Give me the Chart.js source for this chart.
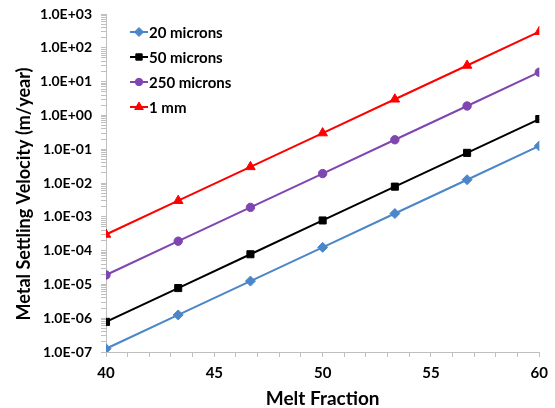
<!DOCTYPE html>
<html>
<head>
<meta charset="utf-8">
<script src="https://cdn.jsdelivr.net/npm/chart.js@4"></script>
<style>
  html, body { margin: 0; padding: 0; background: #fff; }
  #wrap { width: 555px; height: 408px; position: relative; }
</style>
</head>
<body>
<div id="wrap"><canvas id="settlingChart"></canvas></div>
<script>
// melt fraction (%) where each point sits
var meltFraction = [40, 43.333, 46.667, 50, 53.333, 56.667, 60];

// settling velocity in m/year
var v20microns  = [1.25e-7, 1.25e-6, 1.25e-5, 1.25e-4, 1.25e-3, 1.25e-2, 1.25e-1];
var v50microns  = [7.8e-7, 7.8e-6, 7.8e-5, 7.8e-4, 7.8e-3, 7.8e-2, 7.8e-1];
var v250microns = [1.9e-5, 1.9e-4, 1.9e-3, 1.9e-2, 1.9e-1, 1.9e0, 1.9e1];
var v1mm        = [3.0e-4, 3.0e-3, 3.0e-2, 3.0e-1, 3.0e0, 3.0e1, 3.0e2];

var seriesNames = ['20 microns', '50 microns', '250 microns', '1 mm'];
var xTicks = [40, 45, 50, 55, 60];
var yTitle = 'Metal Settling Velocity (m/year)';

function pts(ys) {
    return meltFraction.map(function(x, i) { return { x: x, y: ys[i] }; });
}

function sciLabel(v) {
    var exp = Math.round(Math.log10(v));
    var sign = exp < 0 ? '-' : '+';
    var a = Math.abs(exp);
    return '1.0E' + sign + (a < 10 ? '0' : '') + a;
}

// legend drawn by hand so it shows line + marker like the original,
// plus the y title, which sits a bit lower than chart.js would centre it
var extras = {
    id: 'extras',
    afterDraw: function(chart) {
        var c = chart.ctx;
        var x0 = 130, y0 = 32, gap = 25;
        chart.data.datasets.forEach(function(ds, i) {
            var y = y0 + i * gap;
            c.save();
            c.strokeStyle = ds.borderColor;
            c.lineWidth = 2;
            c.beginPath();
            c.moveTo(x0, y);
            c.lineTo(x0 + 18, y);
            c.stroke();
            c.fillStyle = ds.pointBackgroundColor;
            c.strokeStyle = ds.pointBorderColor;
            c.lineWidth = 1;
            Chart.helpers.drawPoint(c, {
                pointStyle: ds.pointStyle,
                radius: ds.pointRadius - 0.5,
                rotation: 0,
                borderWidth: 1
            }, x0 + 9, y);
            c.restore();
            c.save();
            c.fillStyle = '#000';
            c.font = 'bold 15px Lato';
            c.textBaseline = 'middle';
            c.fillText(ds.label, x0 + 19, y + 1);
            c.restore();
        });

        c.save();
        c.translate(24, 194);
        c.rotate(-Math.PI / 2);
        c.fillStyle = '#000';
        c.font = 'bold 18px Lato';
        c.textAlign = 'center';
        c.textBaseline = 'middle';
        c.fillText(yTitle, 0, 0);
        c.restore();
    }
};

document.addEventListener('DOMContentLoaded', function() {
    var ctx = document.getElementById('settlingChart').getContext('2d');
    var colors = ['#4A86C8', '#000000', '#7F45B0', '#FF0000'];
    var styles = ['rectRot', 'rect', 'circle', 'triangle'];
    var radii = [5, 5, 4.2, 5.5];
    var all = [v20microns, v50microns, v250microns, v1mm];

    var chart = new Chart(ctx, {
        type: 'line',
        data: {
            datasets: all.map(function(ys, i) {
                return {
                    label: seriesNames[i],
                    data: pts(ys),
                    borderColor: colors[i],
                    backgroundColor: colors[i],
                    pointBackgroundColor: colors[i],
                    pointBorderColor: colors[i],
                    pointStyle: styles[i],
                    pointRadius: radii[i],
                    pointBorderWidth: 1,
                    borderWidth: 2,
                    tension: 0
                };
            })
        },
        options: {
            responsive: true,
            maintainAspectRatio: false,
            animation: false,
            layout: { padding: { top: 14, right: 13, left: 0, bottom: 0 } },
            plugins: {
                legend: { display: false },
                tooltip: { enabled: false }
            },
            scales: {
                x: {
                    type: 'linear',
                    min: 40,
                    max: 60,
                    afterFit: function(axis) { axis.height = 56; },
                    ticks: {
                        stepSize: 1,
                        autoSkip: false,
                        maxRotation: 0,
                        color: '#000',
                        font: { family: 'Lato', weight: 'bold', size: 15 },
                        padding: 7,
                        callback: function(v) { return xTicks.indexOf(v) >= 0 ? String(v) : ''; }
                    },
                    grid: { drawOnChartArea: false, color: '#BFBFBF', tickLength: 5 },
                    border: { color: '#BFBFBF', width: 1 },
                    title: {
                        display: true,
                        text: 'Melt Fraction',
                        color: '#000',
                        font: { family: 'Lato', weight: 'bold', size: 19 },
                        padding: { top: 0, bottom: -2 }
                    }
                },
                y: {
                    type: 'logarithmic',
                    min: 1e-7,
                    max: 1e3,
                    afterFit: function(axis) {
                        axis.width = 106;
                        axis.paddingTop = 0;
                        axis.paddingBottom = 0;
                    },
                    afterBuildTicks: function(axis) {
                        var t = [];
                        for (var e = -7; e <= 3; e++) {
                            for (var m = 1; m <= 9; m++) {
                                if (e === 3 && m > 1) break;
                                t.push({ value: m * Math.pow(10, e), major: m === 1 });
                            }
                        }
                        axis.ticks = t;
                    },
                    ticks: {
                        autoSkip: false,
                        color: '#000',
                        font: { family: 'Lato', weight: 'bold', size: 14 },
                        padding: 9,
                        callback: function(v, i, ticks) {
                            return ticks[i].major ? sciLabel(v) : '';
                        }
                    },
                    grid: { drawOnChartArea: false, color: '#BFBFBF', tickLength: 5 },
                    border: { color: '#BFBFBF', width: 1 }
                }
            }
        },
        plugins: [extras]
    });
});
</script>
</body>
</html>
